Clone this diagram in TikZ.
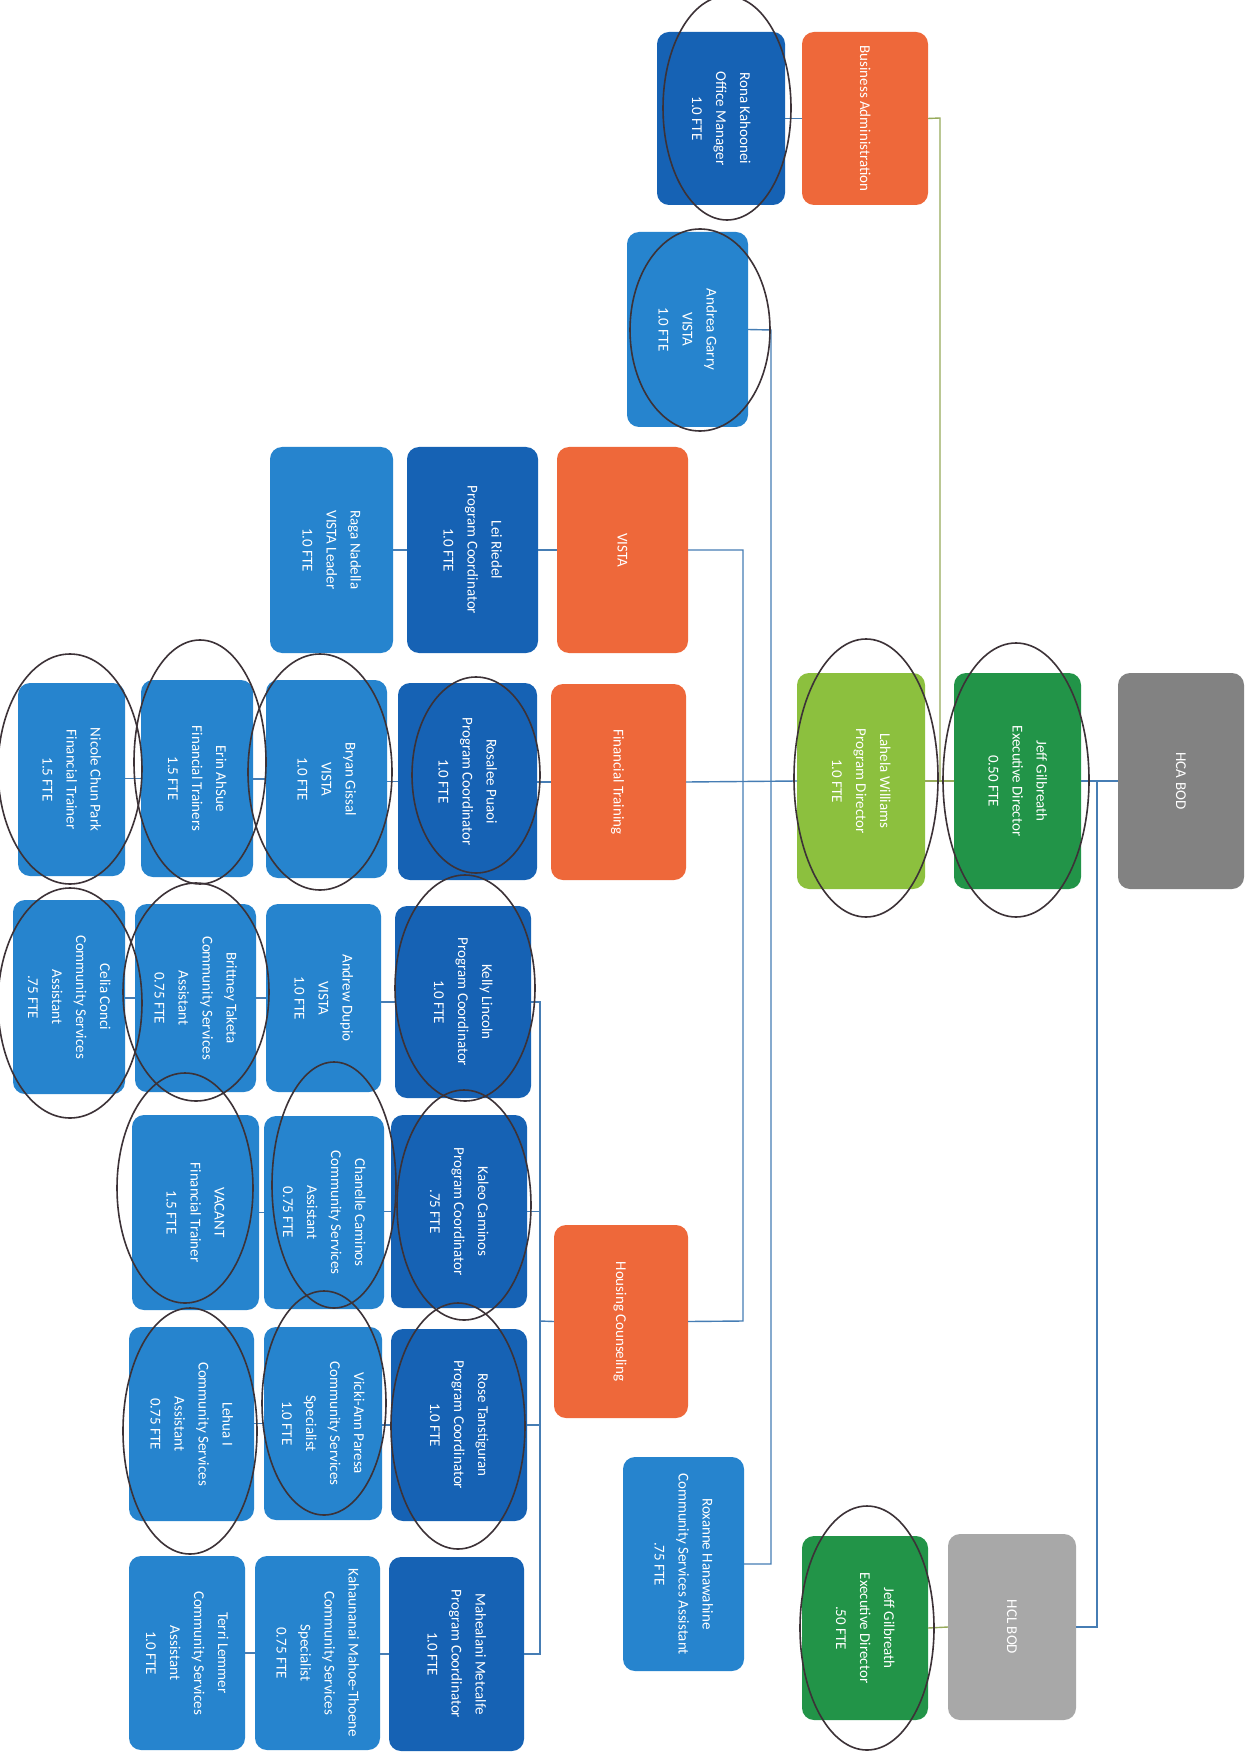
\documentclass[tikz,border=0pt]{standalone}
\usepackage{fontspec}
\setmainfont{Carlito}
\usepackage{graphicx}
\definecolor{orng}{RGB}{238,104,58}
\definecolor{dkblue}{RGB}{22,98,180}
\definecolor{mdblue}{RGB}{38,132,206}
\definecolor{ltgreen}{RGB}{140,192,62}
\definecolor{dkgreen}{RGB}{34,148,72}
\definecolor{greyA}{RGB}{130,130,130}
\definecolor{greyB}{RGB}{168,168,168}
\definecolor{lineblue}{RGB}{70,125,180}
\definecolor{linegreen}{RGB}{150,170,90}
\definecolor{pen}{RGB}{60,50,55}
\newcommand\rt[1]{\rotatebox{-90}{\begin{tabular}{@{}c@{}}#1\end{tabular}}}
\newcommand\bx[7]{%
  \pgfmathsetmacro\cx{(#3+#5)/2}\pgfmathsetmacro\cy{(#4+#6)/2}%
  \pgfmathsetmacro\ww{(#5-#3)*0.5}\pgfmathsetmacro\hh{(#6-#4)*0.5}%
  \node[orgbox,fill=#2,minimum width=\ww pt,minimum height=\hh pt] (#1) at (\cx,\cy) {\rt{#7}};}
\newcommand\ring[4]{\draw[penline] (#1,#2) ellipse [x radius=#3pt, y radius=#4pt];}
\begin{document}
\begin{tikzpicture}[x=0.5pt,y=-0.5pt,
  orgbox/.style={rounded corners=6pt,inner sep=0pt,outer sep=0pt,text=white,
    font=\fontsize{7.5}{12}\selectfont},
  conn/.style={draw=lineblue,line width=0.7pt},
  gconn/.style={draw=linegreen,line width=0.7pt},
  penline/.style={draw=pen,line width=0.8pt}]
\useasboundingbox[fill=white] (0,0) rectangle (1257,1754);
% corner points of connectors
\coordinate (o1) at (771,330);
\coordinate (o2) at (771,1564);
\coordinate (i1) at (743,550);
\coordinate (i2) at (743,1321);
\coordinate (g1) at (940,118);
\coordinate (g2) at (940,781);
\coordinate (v1) at (1097,781);
\coordinate (v2) at (1097,1627);
\coordinate (k1) at (540,1002);
\coordinate (k2) at (540,1654);
\coordinate (k3) at (540,1321);
% boxes
\bx{hca}{greyA}{1118}{673}{1244}{889}{HCA BOD}
\bx{jeff}{dkgreen}{954}{673}{1081}{889}{Jeff Gilbreath\\Executive Director\\0.50 FTE}
\bx{lahela}{ltgreen}{797}{673}{925}{889}{Lahela Williams\\Program Director\\1.0 FTE}
\bx{ba}{orng}{802}{32}{928}{205}{Business Administration}
\bx{rona}{dkblue}{657}{32}{785}{205}{Rona Kahoonei\\Office Manager\\1.0 FTE}
\bx{andrea}{mdblue}{627}{232}{748}{427}{Andrea Garry\\VISTA\\1.0 FTE}
\bx{vista}{orng}{557}{447}{688}{653}{VISTA}
\bx{lei}{dkblue}{407}{447}{538}{653}{Lei Riedel\\Program Coordinator\\1.0 FTE}
\bx{raga}{mdblue}{270}{447}{393}{653}{Raga Nadella\\VISTA Leader\\1.0 FTE}
\bx{ft}{orng}{551}{684}{686}{880}{Financial Training}
\bx{rosalee}{dkblue}{398}{683}{537}{880}{Rosalee Puaoi\\Program Coordinator\\1.0 FTE}
\bx{bryan}{mdblue}{266}{680}{387}{878}{Bryan Gissal\\VISTA\\1.0 FTE}
\bx{erin}{mdblue}{141}{680}{253}{877}{Erin AhSue\\Financial Trainers\\1.5 FTE}
\bx{nicole}{mdblue}{18}{683}{125}{876}{Nicole Chun Park\\Financial Trainer\\1.5 FTE}
\bx{kelly}{dkblue}{395}{906}{531}{1098}{Kelly Lincoln\\Program Coordinator\\1.0 FTE}
\bx{andrew}{mdblue}{266}{904}{381}{1092}{Andrew Dupio\\VISTA\\1.0 FTE}
\bx{brittney}{mdblue}{135}{904}{256}{1092}{Brittney Taketa\\Community Services\\Assistant\\0.75 FTE}
\bx{celia}{mdblue}{13}{900}{125}{1094}{Celia Conci\\Community Services\\Assistant\\.75 FTE}
\bx{hc}{orng}{554}{1225}{688}{1418}{Housing Counseling}
\bx{kaleo}{dkblue}{391}{1115}{527}{1308}{Kaleo Caminos\\Program Coordinator\\.75 FTE}
\bx{chanelle}{mdblue}{264}{1116}{384}{1309}{Chanelle Caminos\\Community Services\\Assistant\\0.75 FTE}
\bx{vacant}{mdblue}{132}{1115}{259}{1310}{VACANT\\Financial Trainer\\1.5 FTE}
\bx{rose}{dkblue}{391}{1329}{527}{1521}{Rose Tanstiguran\\Program Coordinator\\1.0 FTE}
\bx{vicki}{mdblue}{264}{1327}{382}{1520}{Vicki-Ann Paresa\\Community Services\\Specialist\\1.0 FTE}
\bx{lehua}{mdblue}{129}{1327}{254}{1521}{Lehua I\\Community Services\\Assistant\\0.75 FTE}
\bx{mahealani}{dkblue}{389}{1557}{524}{1751}{Mahealani Metcalfe\\Program Coordinator\\1.0 FTE}
\bx{kahaunani}{mdblue}{255}{1556}{380}{1750}{Kahaunanai Mahoe-Thoene\\Community Services\\Specialist\\0.75 FTE}
\bx{terri}{mdblue}{129}{1556}{245}{1750}{Terri Lemmer\\Community Services\\Assistant\\1.0 FTE}
\bx{roxanne}{mdblue}{623}{1457}{744}{1671}{Roxanne Hanawahine\\Community Services Assistant\\.75 FTE}
\bx{hcl}{greyB}{948}{1534}{1076}{1720}{HCL BOD}
\bx{jeff2}{dkgreen}{802}{1536}{928}{1720}{Jeff Gilbreath\\Executive Director\\.50 FTE}
% connectors
\draw[conn] (hca.west) -- (jeff.east);
\draw[conn] (v1) -- (v2) -- (hcl.east);
\draw[gconn] (hcl.west) -- (jeff2.east);
\draw[gconn] (jeff.west) -- (lahela.east);
\draw[gconn] (ba.east) -- (g1) -- (g2);
\draw[conn] (rona.east) -- (ba.west);
\draw[conn] (lahela.west) -- (ft.east);
\draw[conn] (andrea.east) -- (o1) -- (o2) -- (roxanne.east);
\draw[conn] (vista.east) -- (i1) -- (i2) -- (hc.east);
\draw[conn] (vista.west) -- (lei.east);
\draw[conn] (lei.west) -- (lei.west -| raga.east);
\draw[conn] (ft.west) -- (ft.west -| rosalee.east);
\draw[conn] (rosalee.west) -- (rosalee.west -| bryan.east);
\draw[conn] (bryan.west) -- (bryan.west -| erin.east);
\draw[conn] (erin.west) -- (erin.west -| nicole.east);
\draw[conn] (hc.west) -- (k3);
\draw[conn] (kelly.east) -- (k1) -- (k2) -- (k2 -| mahealani.east);
\draw[conn] (kaleo.east) -- (kaleo.east -| k1);
\draw[conn] (rose.east) -- (rose.east -| k1);
\draw[conn] (kelly.west) -- (kelly.west -| andrew.east);
\draw[conn] (andrew.west) -- (andrew.west -| brittney.east);
\draw[conn] (brittney.west) -- (brittney.west -| celia.east);
\draw[conn] (kaleo.west) -- (kaleo.west -| chanelle.east);
\draw[conn] (chanelle.west) -- (chanelle.west -| vacant.east);
\draw[conn] (rose.west) -- (rose.west -| vicki.east);
\draw[conn] (vicki.west) -- (vicki.west -| lehua.east);
\draw[conn] (mahealani.west) -- (mahealani.west -| kahaunani.east);
\draw[conn] (kahaunani.west) -- (kahaunani.west -| terri.east);
% hand-drawn rings
\ring{727}{108}{32}{56}
\ring{700}{330}{35}{50.5}
\ring{866}{778}{36}{69.5}
\ring{1016}{780}{36.5}{68.5}
\ring{476}{775}{32}{49}
\ring{320}{772}{36}{59}
\ring{200}{762}{33}{61}
\ring{70}{769}{36}{57.5}
\ring{465}{988}{35}{56.5}
\ring{196}{992}{36.5}{54.5}
\ring{70}{1003}{36}{57.5}
\ring{464}{1205}{33.5}{57.5}
\ring{334}{1185}{31}{61.5}
\ring{185}{1188}{34}{57.5}
\ring{458}{1426}{33.5}{61.5}
\ring{324}{1403}{31}{56}
\ring{190}{1431}{33.5}{61.5}
\ring{867}{1628}{33.5}{61}
\end{tikzpicture}
\end{document}
